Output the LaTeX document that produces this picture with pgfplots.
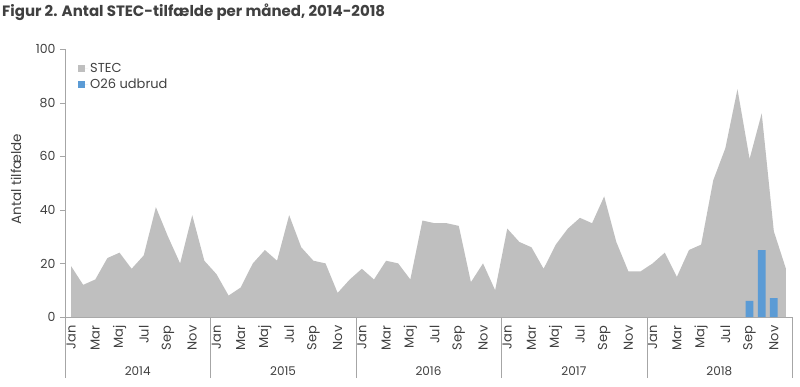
\documentclass[border=0pt]{standalone}
\usepackage{fontspec}
\setmainfont{Poppins}
\usepackage{pgfplots}
\usepackage{pgfplotstable}
\pgfplotsset{compat=1.18}
\definecolor{areagray}{HTML}{BFBFBF}
\definecolor{barblue}{HTML}{5B9BD5}
\definecolor{axgray}{HTML}{A6A6A6}
\definecolor{txt}{HTML}{404040}
\pgfplotstableread{
x y
0 19
1 12
2 14
3 22
4 24
5 18
6 23
7 41
8 30
9 20
10 38
11 21
12 16
13 8
14 11
15 20
16 25
17 21
18 38
19 26
20 21
21 20
22 9
23 14
24 18
25 14
26 21
27 20
28 14
29 36
30 35
31 35
32 34
33 13
34 20
35 10
36 33
37 28
38 26
39 18
40 27
41 33
42 37
43 35
44 45
45 28
46 17
47 17
48 20
49 24
50 15
51 25
52 27
53 51
54 63
55 85
56 59
57 76
58 32
59 18
}\stec
\pgfplotstableread{
x y
56 6
57 25
58 7
}\outbreak
\begin{document}
\begin{tikzpicture}
\useasboundingbox (-65pt,-69pt) rectangle (735pt,317pt);
\begin{axis}[
  scale only axis, width=727pt, height=268pt,
  xmin=-0.5, xmax=59.5, ymin=0, ymax=100,
  axis x line*=bottom, axis y line*=left,
  axis line style={axgray},
  /pgf/number format/assume math mode=true,
  ytick={0,20,...,100},
  major tick length=5pt, tick align=outside,
  ytick style={axgray},
  y tick label style={font=\fontsize{12.5}{14}\selectfont, text=txt, xshift=-1pt},
  xtick={0,2,...,58},
  xticklabels={Jan,Mar,Maj,Jul,Sep,Nov,Jan,Mar,Maj,Jul,Sep,Nov,Jan,Mar,Maj,Jul,Sep,Nov,Jan,Mar,Maj,Jul,Sep,Nov,Jan,Mar,Maj,Jul,Sep,Nov},
  x tick label style={rotate=90, anchor=east, font=\fontsize{13}{14}\selectfont, text=txt},
  xtick style={draw=none},
  extra x ticks={-0.5,11.5,23.5,35.5,47.5,59.5},
  extra x tick labels={},
  extra x tick style={major tick length=61pt, xtick style={draw=axgray}},
  every axis y label/.style={at={(axis description cs:-0.0674,0.515)}, rotate=90, anchor=center, font=\fontsize{13.5}{15}\selectfont, text=txt},
  ylabel={Antal tilfælde},
  legend style={draw=none, fill=none, at={(axis description cs:0,1)}, anchor=north west, xshift=10pt, yshift=-10pt, font=\fontsize{13}{15}\selectfont, text=txt, legend cell align=left, row sep=1pt},
  clip=false,
]
\addplot[fill=areagray, draw=none, legend image code/.code={\fill[areagray] (0pt,-3.5pt) rectangle (7pt,3.5pt); \path (0pt,0pt) -- (10pt,0pt);}] table[x=x,y=y]{\stec} \closedcycle;
\addlegendentry{STEC}
\addplot[ybar, bar width=7.7pt, fill=barblue, draw=none, legend image code/.code={\fill[barblue] (0pt,-3.5pt) rectangle (7pt,3.5pt); \path (0pt,0pt) -- (10pt,0pt);}] table[x=x,y=y]{\outbreak};
\addlegendentry{O26 udbrud}
\node[font=\fontsize{12}{14}\selectfont, text=txt] at ([yshift=-54pt]axis cs:5.5,0) {2014};
\node[font=\fontsize{12}{14}\selectfont, text=txt] at ([yshift=-54pt]axis cs:17.5,0) {2015};
\node[font=\fontsize{12}{14}\selectfont, text=txt] at ([yshift=-54pt]axis cs:29.5,0) {2016};
\node[font=\fontsize{12}{14}\selectfont, text=txt] at ([yshift=-54pt]axis cs:41.5,0) {2017};
\node[font=\fontsize{12}{14}\selectfont, text=txt] at ([yshift=-54pt]axis cs:53.5,0) {2018};
\end{axis}
\node[anchor=base west, font=\bfseries\fontsize{15}{17}\selectfont, text=txt, inner sep=0pt] at (-63pt,300pt) {Figur 2. Antal STEC-tilfælde per måned, 2014-2018};
\end{tikzpicture}
\end{document}
